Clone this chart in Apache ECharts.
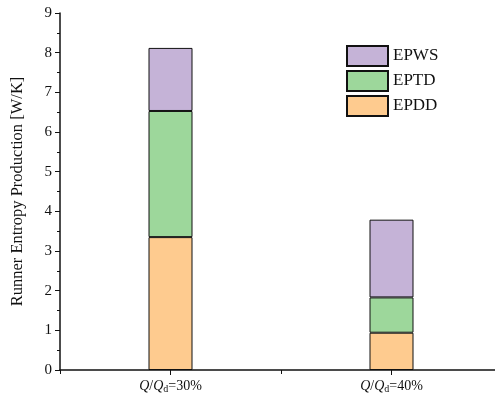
<!DOCTYPE html>
<html>
<head>
<meta charset="utf-8">
<script src="https://cdn.jsdelivr.net/npm/echarts@6/dist/echarts.min.js"></script>
<style>
html,body{margin:0;padding:0;background:#fff;overflow:hidden;}
#c{width:502px;height:401px;}
</style>
</head>
<body>
<div id="c"></div>
<script>
var categories = ['30%', '40%'];
var EPDD = [3.35, 0.94];
var EPTD = [3.18, 0.89];
var EPWS = [1.59, 1.96];
var yTicks = [0, 1, 2, 3, 4, 5, 6, 7, 8, 9];

var chart = echarts.init(document.getElementById('c'));
var font = 'Liberation Serif';
function mk(name, vals, color) {
  return {
    name: name,
    type: 'bar',
    stack: 'total',
    barWidth: 44,
    xAxisIndex: 0,
    data: vals,
    itemStyle: { color: color, borderColor: '#111', borderWidth: 1 }
  };
}
chart.setOption({
  animation: false,
  backgroundColor: '#fff',
  grid: { left: 60, right: 0, top: 13, bottom: 31 },
  legend: {
    data: ['EPWS', 'EPTD', 'EPDD'],
    orient: 'vertical',
    left: 341, top: 40,
    icon: 'rect',
    itemWidth: 41, itemHeight: 20, itemGap: 3,
    textStyle: { fontFamily: font, fontSize: 17, color: '#111' }
  },
  xAxis: [{
    type: 'category', data: categories, position: 'bottom',
    axisLine: { lineStyle: { color: '#111', width: 1.5 } },
    axisTick: { show: true, alignWithLabel: true, length: 5, lineStyle: { color: '#111' } },
    axisLabel: {
      margin: 8,
      formatter: function (v) {
        return '{i|Q}{n|/}{i|Q}{s|d}{n|=' + v + '}';
      },
      rich: {
        i: { fontFamily: font, fontStyle: 'italic', fontSize: 14, color: '#111' },
        n: { fontFamily: font, fontSize: 14, color: '#111' },
        s: { fontFamily: font, fontSize: 10, color: '#111', verticalAlign: 'bottom', padding: [6, 0, 0, 0] }
      }
    }
  }, {
    type: 'category', data: categories, position: 'bottom',
    axisLine: { show: false },
    axisTick: { show: true, alignWithLabel: false, length: 4, lineStyle: { color: '#111' } },
    axisLabel: { show: false }
  }],
  yAxis: {
    type: 'value', min: yTicks[0], max: yTicks[yTicks.length - 1], interval: 1,
    name: 'Runner Entropy Production [W/K]',
    nameLocation: 'middle', nameGap: 34,
    nameTextStyle: { fontFamily: font, fontSize: 16.5, color: '#111' },
    splitLine: { show: false },
    axisLine: { show: true, lineStyle: { color: '#111', width: 1.5 } },
    axisTick: { show: true, length: 5, lineStyle: { color: '#111' } },
    minorTick: { show: true, splitNumber: 2, length: 3, lineStyle: { color: '#111' } },
    axisLabel: { fontFamily: font, fontSize: 15, color: '#111', margin: 8 }
  },
  series: [
    mk('EPDD', EPDD, '#FECB8F'),
    mk('EPTD', EPTD, '#9DD79B'),
    mk('EPWS', EPWS, '#C5B3D7')
  ]
});
</script>
</body>
</html>
